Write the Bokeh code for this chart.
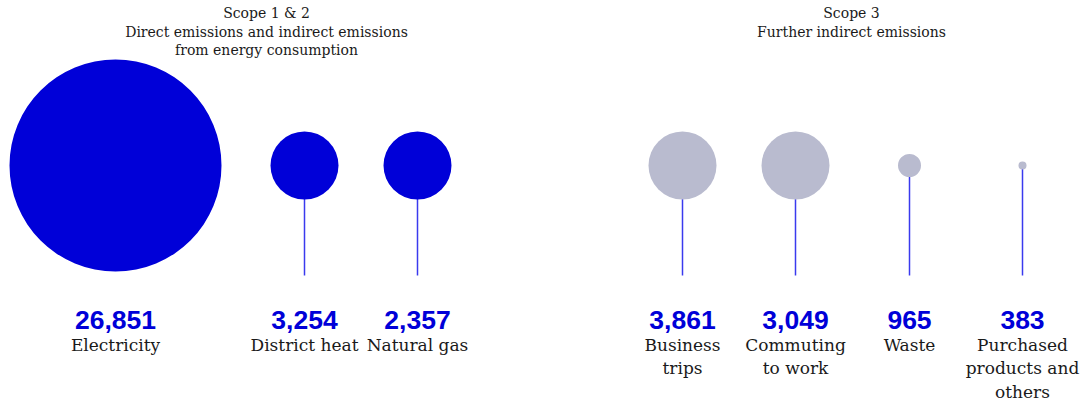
from bokeh.plotting import figure
from bokeh.models import Range1d, ColumnDataSource
from bokeh.embed import file_html
from bokeh.resources import INLINE
from bokeh.core.properties import value

# ---- data ----
categories = ["Electricity", "District heat", "Natural gas",
              "Business trips", "Commuting to work", "Waste",
              "Purchased products and others"]
emissions = [26851, 3254, 2357, 3861, 3049, 965, 383]
scope = ["1&2", "1&2", "1&2", "3", "3", "3", "3"]
label_lines = [["Electricity"], ["District heat"], ["Natural gas"],
               ["Business", "trips"], ["Commuting", "to work"], ["Waste"],
               ["Purchased", "products and", "others"]]
group_titles = [["Scope 1 & 2", "Direct emissions and indirect emissions", "from energy consumption"],
                ["Scope 3", "Further indirect emissions"]]

# ---- layout / style (not data) ----
x_px = [115, 304, 417, 682, 795, 909, 1022]
marker_d = [212, 68, 68, 68, 68, 23, 8]
title_x = [266, 851]
BLUE = "#0000d8"
GREY = "#b9bbcf"
SERIF = "DejaVu Serif"

W, H = 1083, 406
p = figure(width=W, height=H, output_backend="svg", toolbar_location=None,
           x_range=Range1d(0, W), y_range=Range1d(H, 0),
           min_border=0, outline_line_color=None)
p.axis.visible = False
p.grid.visible = False
p.background_fill_color = "white"
p.border_fill_color = "white"

cy = 165
stem_bottom = 275
src = ColumnDataSource(dict(
    x=x_px, y=[cy] * len(x_px), y1=[stem_bottom] * len(x_px),
    yn=[319] * len(x_px),
    d=marker_d,
    stem_alpha=[1.0 if cy + dd / 2 < stem_bottom - 10 else 0.0 for dd in marker_d],
    color=[BLUE if s == "1&2" else GREY for s in scope],
    num=[f"{v:,}" for v in emissions],
))
p.segment(x0="x", y0="y", x1="x", y1="y1", source=src,
          line_color="#3a3aee", line_width=1.5, line_alpha="stem_alpha")
p.scatter(x="x", y="y", size="d", source=src, fill_color="color",
          line_color=None)

p.text(x="x", y="yn", text="num", source=src,
       text_font=value("Liberation Sans"), text_font_style="bold",
       text_font_size="26.5px", text_color=BLUE, text_align="center",
       text_baseline="alphabetic")

lx, ly, lt = [], [], []
for xi, lines in zip(x_px, label_lines):
    for k, t in enumerate(lines):
        lx.append(xi); ly.append(344 + 23.5 * k); lt.append(t)
p.text(x=lx, y=ly, text=lt, text_font=value(SERIF), text_font_size="17px",
       text_color="#1a1a1a", text_align="center", text_baseline="alphabetic")

tx, ty, tt = [], [], []
for xi, lines in zip(title_x, group_titles):
    for k, t in enumerate(lines):
        tx.append(xi); ty.append(12.5 + 18.5 * k); tt.append(t)
p.text(x=tx, y=ty, text=tt, text_font=value(SERIF), text_font_size="14px",
       text_color="#1a1a1a", text_align="center", text_baseline="alphabetic")

open("out.html", "w").write(file_html(p, INLINE))
